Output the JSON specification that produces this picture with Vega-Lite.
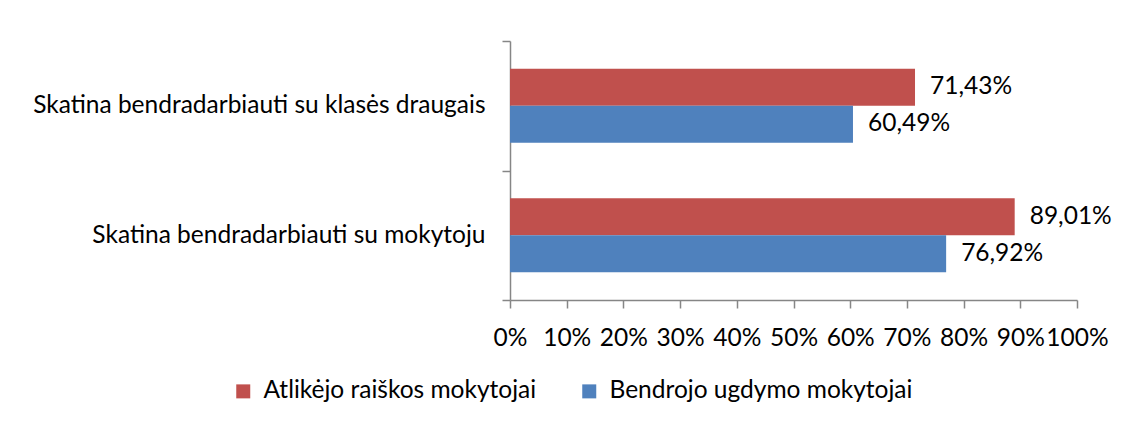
{
  "$schema": "https://vega.github.io/schema/vega-lite/v6.json",
  "width": 567,
  "height": 259,
  "autosize": {"type": "none"},
  "padding": {"left": 510, "top": 41, "right": 45, "bottom": 125},
  "background": "white",
  "config": {
    "view": {"stroke": null},
    "font": "Lato",
    "locale": {"number": {"decimal": ",", "thousands": " ", "grouping": [3], "currency": ["", " €"]}}
  },
  "data": {
    "values": [
      {"cat": "Skatina bendradarbiauti su klasės draugais", "series": "Atlikėjo raiškos mokytojai", "value": 0.7143},
      {"cat": "Skatina bendradarbiauti su klasės draugais", "series": "Bendrojo ugdymo mokytojai", "value": 0.6049},
      {"cat": "Skatina bendradarbiauti su mokytoju", "series": "Atlikėjo raiškos mokytojai", "value": 0.8901},
      {"cat": "Skatina bendradarbiauti su mokytoju", "series": "Bendrojo ugdymo mokytojai", "value": 0.7692}
    ]
  },
  "encoding": {
    "y": {
      "field": "cat", "type": "nominal",
      "sort": ["Skatina bendradarbiauti su klasės draugais", "Skatina bendradarbiauti su mokytoju"],
      "scale": {"paddingInner": 0, "paddingOuter": 0},
      "axis": {
        "title": null, "tickBand": "extent", "domainColor": "#868686", "tickColor": "#868686",
        "tickSize": 8, "labelFontSize": 24.5, "labelColor": "#000000", "labelPadding": 17, "labelLimit": 600,
        "domainWidth": 1.5, "tickWidth": 1.5
      }
    },
    "yOffset": {
      "field": "series", "type": "nominal",
      "sort": ["Atlikėjo raiškos mokytojai", "Bendrojo ugdymo mokytojai"],
      "scale": {"paddingInner": 0, "paddingOuter": 0.75}
    },
    "x": {
      "field": "value", "type": "quantitative",
      "scale": {"domain": [0, 1]},
      "axis": {
        "title": null, "format": ".0%", "tickCount": 10, "grid": false,
        "domainColor": "#868686", "tickColor": "#868686", "tickSize": 8,
        "labelFontSize": 24.5, "labelColor": "#000000", "labelPadding": 18,
        "domainWidth": 1.5, "tickWidth": 1.5, "labelFlush": false, "labelOverlap": false
      }
    }
  },
  "layer": [
    {
      "mark": {"type": "bar"},
      "encoding": {
        "color": {
          "field": "series", "type": "nominal",
          "sort": ["Atlikėjo raiškos mokytojai", "Bendrojo ugdymo mokytojai"],
          "scale": {"range": ["#C0504D", "#4F81BD"]},
          "legend": {
            "title": null, "orient": "none", "direction": "horizontal",
            "legendX": -279, "legendY": 338,
            "symbolType": "square", "symbolSize": 196, "symbolStrokeWidth": 0,
            "labelFontSize": 24.5, "labelColor": "#000000", "columnPadding": 40,
            "labelOffset": 8, "labelLimit": 400
          }
        }
      }
    },
    {
      "mark": {"type": "text", "align": "left", "baseline": "middle", "dx": 15, "fontSize": 24.5, "color": "#000000"},
      "encoding": {
        "text": {"field": "value", "type": "quantitative", "format": ".2%"}
      }
    }
  ]
}
